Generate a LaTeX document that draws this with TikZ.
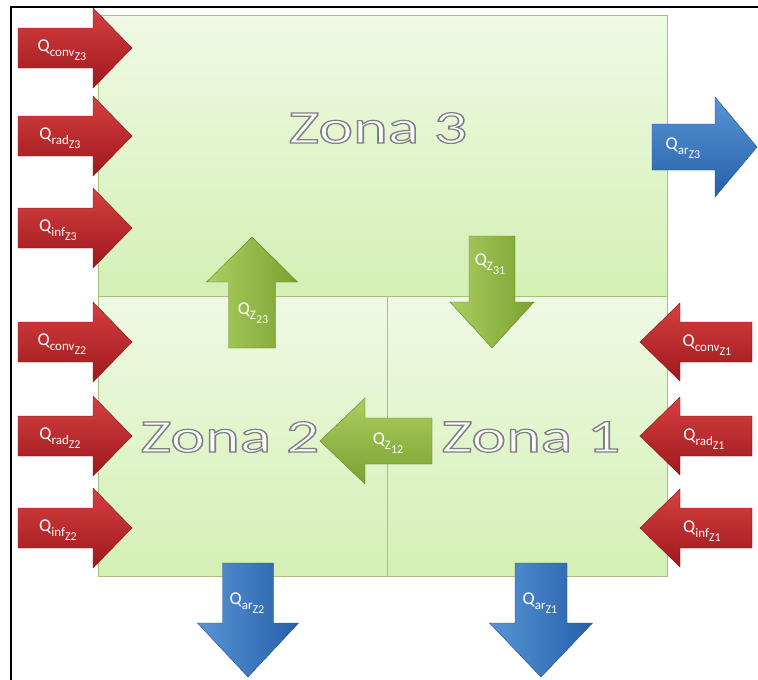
\documentclass[tikz,border=0pt]{standalone}
\usepackage{fontspec}
\setmainfont{Carlito}
\definecolor{zonetop}{RGB}{239,249,228}
\definecolor{zonebot}{RGB}{212,240,180}
\definecolor{zoneline}{RGB}{165,192,125}
\definecolor{redtop}{RGB}{214,64,64}
\definecolor{redbot}{RGB}{158,24,28}
\definecolor{bluetop}{RGB}{88,148,214}
\definecolor{bluebot}{RGB}{38,96,170}
\definecolor{greentop}{RGB}{172,206,96}
\definecolor{greenbot}{RGB}{122,162,48}
% horizontal block arrow: tail x, head base x, tip x, centre y, half body, half head, style
\newcommand\harr[7]{\path[#7] (#1,{#4-#5}) -- (#2,{#4-#5}) -- (#2,{#4-#6}) -- (#3,#4) -- (#2,{#4+#6}) -- (#2,{#4+#5}) -- (#1,{#4+#5}) -- cycle;}
% vertical block arrow: centre x, tail y, head base y, tip y, half body, half head, style
\newcommand\varr[7]{\path[#7] ({#1-#5},#2) -- ({#1-#5},#3) -- ({#1-#6},#3) -- (#1,#4) -- ({#1+#6},#3) -- ({#1+#5},#3) -- ({#1+#5},#2) -- cycle;}
\newcommand\qlab[2]{Q\raisebox{-0.3em}{\fontsize{13}{13}\selectfont #1\raisebox{-0.32em}{\fontsize{12}{12}\selectfont #2}}}
\newcommand\zonetext[1]{\fontsize{47}{50}\selectfont\scalebox{1.4}[1]{\special{pdf:literal direct 0.5 G 1.2 w 2 Tr}#1\special{pdf:literal direct 0 Tr}}}
\tikzset{
  zonebox/.style={draw=zoneline, line width=0.8pt, top color=zonetop, bottom color=zonebot, inner sep=0pt, anchor=north west},
  redarrow/.style={top color=redtop, bottom color=redbot, draw=redbot!80!black, line width=0.4pt},
  bluearrow/.style={top color=bluetop, bottom color=bluebot, draw=bluebot!80!black, line width=0.4pt},
  bluevarrow/.style={left color=bluetop, right color=bluebot, draw=bluebot!80!black, line width=0.4pt},
  greenvarrow/.style={left color=greentop, right color=greenbot, draw=greenbot!80!black, line width=0.4pt},
  greenarrow/.style={top color=greentop, bottom color=greenbot, draw=greenbot!80!black, line width=0.4pt},
  qlabel/.style={text=white, font=\fontsize{18}{20}\selectfont, inner sep=0pt},
  ztext/.style={text=white!96!gray, inner sep=0pt}
}
\begin{document}
\begin{tikzpicture}[x=1pt,y=-1pt]
\useasboundingbox (0,0) rectangle (758,680);
% frame
\draw[line width=2pt] (11,680) -- (11,7) -- (758,7);
% zones
\node[zonebox, minimum width=569pt, minimum height=281pt] (z3) at (98,15) {};
\node[zonebox, minimum width=289pt, minimum height=280pt] (z2) at (98,296) {};
\node[zonebox, minimum width=280pt, minimum height=280pt] (z1) at (387,296) {};
% zone titles (outlined)
\node[ztext] (t3) at (378,128) {\zonetext{Zona 3}};
\node[ztext] (t2) at (230,437) {\zonetext{Zona 2}};
\node[ztext] (t1) at (531,437) {\zonetext{Zona 1}};
% left red arrows
\foreach \yc in {48,136,228,342,436,528} {\harr{18}{93}{132}{\yc}{20}{40}{redarrow}}
\node[qlabel] (cz3) at (62,50) {\qlab{conv}{Z3}};
\node[qlabel] (rz3) at (60,138) {\qlab{rad}{Z3}};
\node[qlabel] (iz3) at (58,230) {\qlab{inf}{Z3}};
\node[qlabel] (cz2) at (62,344) {\qlab{conv}{Z2}};
\node[qlabel] (rz2) at (60,438) {\qlab{rad}{Z2}};
\node[qlabel] (iz2) at (58,530) {\qlab{inf}{Z2}};
% right red arrows
\foreach \yc in {342,436,528} {\harr{752}{680}{640}{\yc}{20}{39}{redarrow}}
\node[qlabel] (cz1) at (707,345) {\qlab{conv}{Z1}};
\node[qlabel] (rz1) at (704,439) {\qlab{rad}{Z1}};
\node[qlabel] (iz1) at (702,531) {\qlab{inf}{Z1}};
% blue arrows
\harr{652}{715}{757}{147}{23}{50}{bluearrow}
\node[qlabel] (az3) at (683,148) {\qlab{ar}{Z3}};
\varr{248}{563}{623}{677}{25.5}{50.5}{bluevarrow}
\node[qlabel] (az2) at (247,603) {\qlab{ar}{Z2}};
\varr{541}{563}{623}{677}{26}{51.5}{bluevarrow}
\node[qlabel] (az1) at (540,603) {\qlab{ar}{Z1}};
% green inter-zone arrows
\varr{252}{348}{282}{237}{23.5}{45.5}{greenvarrow}
\node[qlabel] (q23) at (253,313) {\qlab{Z}{23}};
\varr{492}{236}{302}{348}{23}{42}{greenvarrow}
\node[qlabel] (q31) at (490,264) {\qlab{Z}{31}};
\harr{432}{365}{320}{441}{23}{43}{greenarrow}
\node[qlabel] (q12) at (388,443) {\qlab{Z}{12}};
\end{tikzpicture}
\end{document}
